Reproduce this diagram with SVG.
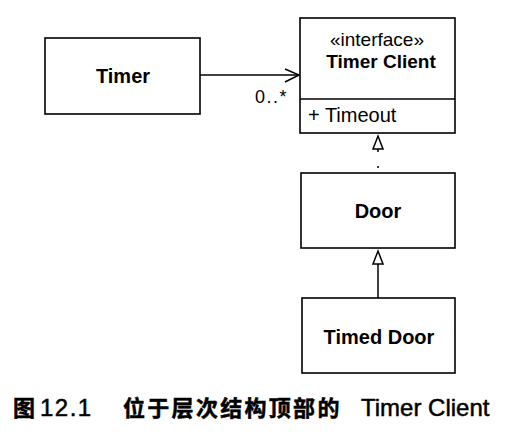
<svg xmlns="http://www.w3.org/2000/svg" width="509" height="436" viewBox="0 0 509 436">
<style>
.box{fill:#fff;stroke:#000;stroke-width:1.6}
.t{font-family:"Liberation Sans",Arial,sans-serif;fill:#000}
.b{font-weight:bold;font-size:20px}
.r{font-size:19px}
.ln{stroke:#000;stroke-width:1.5;fill:none}
.cap{font-family:"Liberation Sans","Noto Sans CJK SC",sans-serif;fill:#000}
.cjk{font-family:"Noto Sans CJK SC",sans-serif;font-weight:bold;font-size:22px}
</style>
<rect width="509" height="436" fill="#fff"/>
<g id="connectors">
  <line class="ln" x1="200" y1="75" x2="299" y2="75"/>
  <polyline class="ln" points="285,69 299,75 285,82"/>
  <text class="t" x="255" y="103" font-size="18" letter-spacing="1.5">0..*</text>
  <polygon class="ln" points="378,136 383,149 373,149" fill="#fff"/>
  <line class="ln" x1="378" y1="149" x2="378" y2="152"/>
  <line class="ln" x1="378" y1="152" x2="378" y2="173" stroke-dasharray="0 14 2 10"/>
  <polygon class="ln" points="378,251 383,264 373,264" fill="#fff"/>
  <line class="ln" x1="378" y1="264" x2="378" y2="298"/>
</g>
<g id="timer">
  <rect class="box" x="45" y="38" width="155" height="76"/>
  <text class="t b" x="123" y="83" text-anchor="middle">Timer</text>
</g>
<g id="timer-client">
  <rect class="box" x="300" y="18" width="155" height="115"/>
  <line class="ln" x1="300" y1="99" x2="455" y2="99"/>
  <text class="t r" x="377" y="46" text-anchor="middle">«interface»</text>
  <text class="t" x="381" y="67.5" text-anchor="middle" font-weight="bold" font-size="19">Timer Client</text>
  <text class="t" x="308" y="122" font-size="20">+ Timeout</text>
</g>
<g id="door">
  <rect class="box" x="301" y="173" width="154" height="75"/>
  <text class="t b" x="378" y="218" text-anchor="middle">Door</text>
</g>
<g id="timed-door">
  <rect class="box" x="302" y="298" width="153" height="75"/>
  <text class="t b" x="379" y="344" text-anchor="middle">Timed Door</text>
</g>
<g id="caption">
  <text class="cap" y="416" font-size="24" stroke="#000" stroke-width="0.5">
    <tspan x="13" class="cjk">图</tspan>
    <tspan x="40" letter-spacing="1.5">12.1</tspan>
    <tspan x="123" class="cjk" letter-spacing="2.3">位于层次结构顶部的</tspan>
    <tspan x="361">Timer Client</tspan>
  </text>
</g>
</svg>
